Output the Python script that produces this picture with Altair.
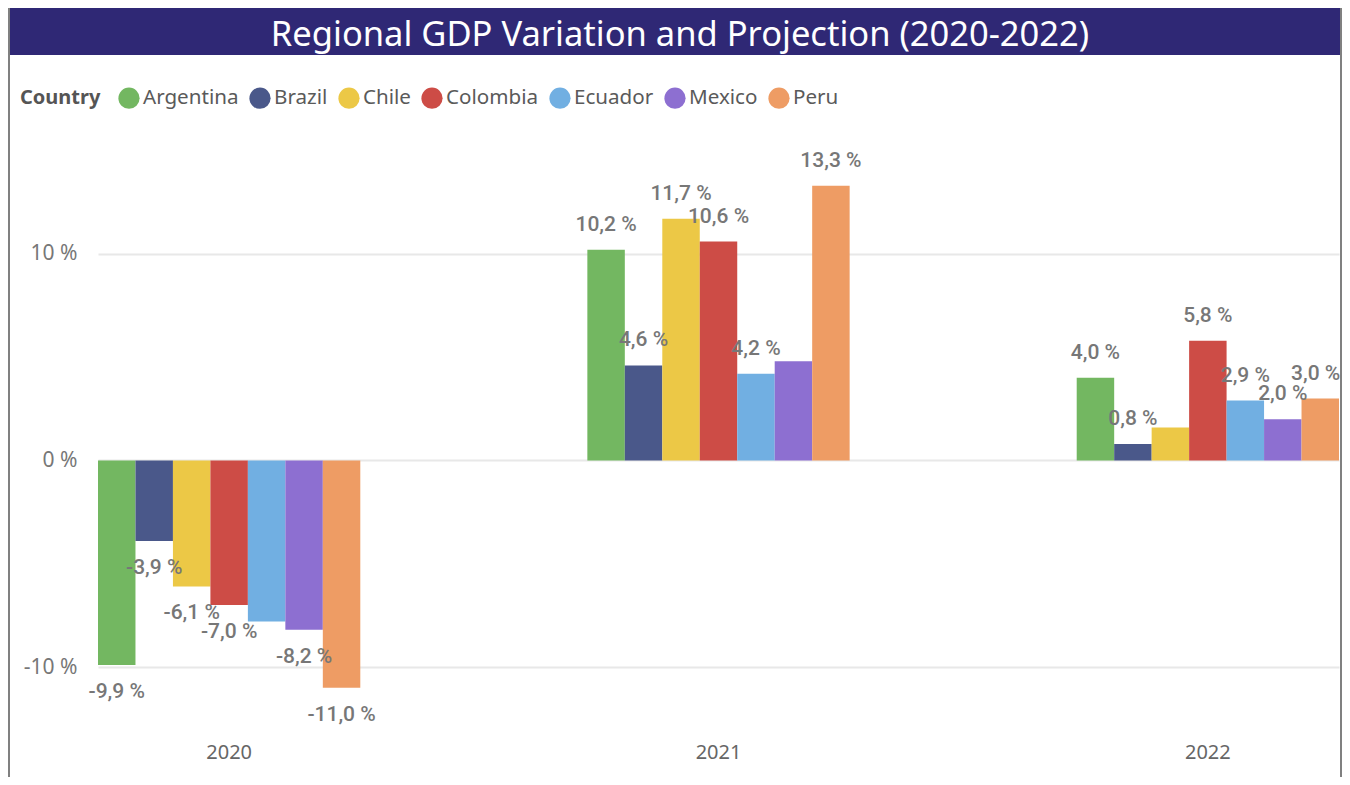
import altair as alt
import pandas as pd

countries = ["Argentina", "Brazil", "Chile", "Colombia", "Ecuador", "Mexico", "Peru"]
years = ["2020", "2021", "2022"]
gdp_2020 = [-9.9, -3.9, -6.1, -7.0, -7.8, -8.2, -11.0]
gdp_2021 = [10.2, 4.6, 11.7, 10.6, 4.2, 4.8, 13.3]
gdp_2022 = [4.0, 0.8, 1.6, 5.8, 2.9, 2.0, 3.0]
hidden_labels = [("2020", "Ecuador"), ("2021", "Mexico"), ("2022", "Chile")]
colors = ["#73B761", "#4A588A", "#ECC846", "#CD4C46", "#71AFE2", "#8D6FD1", "#EE9C64"]
title_text = "Regional GDP Variation and Projection (2020-2022)"

rows = []
for yr, vals in zip(years, [gdp_2020, gdp_2021, gdp_2022]):
    for c, v in zip(countries, vals):
        lab = "" if (yr, c) in hidden_labels else f"{v:.1f}".replace(".", ",") + " %"
        edge = (yr == years[-1]) and (c == countries[-1])
        rows.append({"Year": yr, "Country": c, "Value": v, "Label": lab, "Edge": edge})
df = pd.DataFrame(rows)

LABEL_FONT = "Roboto"
UI_FONT = "Noto Sans"

PLOT_W = 1241
PLOT_H = 568

x_enc = alt.X(
    "Year:N",
    sort=years,
    scale=alt.Scale(paddingInner=0.464, paddingOuter=0),
    axis=alt.Axis(
        title=None, labelAngle=0, ticks=False, domain=False, labelPadding=13,
        labelFontSize=20, labelColor="#666666", labelFont=UI_FONT, grid=False,
    ),
)
xoff_enc = alt.XOffset("Country:N", sort=countries, scale=alt.Scale(paddingInner=0, paddingOuter=0))
y_enc = alt.Y(
    "Value:Q",
    scale=alt.Scale(domain=[-13, 14.5], nice=False, zero=False),
    axis=alt.Axis(
        title=None, values=[-10, 0, 10], labelExpr="datum.value + ' %'",
        grid=True, gridColor="#E8E8E8", gridWidth=2, ticks=False, domain=False,
        labelPadding=21, labelFontSize=21, labelColor="#777777", labelFont=UI_FONT,
    ),
)
color_enc = alt.Color(
    "Country:N",
    sort=countries,
    scale=alt.Scale(domain=countries, range=colors),
    legend=alt.Legend(
        orient="none", legendX=-78, legendY=-74, direction="horizontal",
        title="Country", titleOrient="left", titleFontSize=20, titleFontWeight="bold",
        titleColor="#555555", titleFont=UI_FONT, titlePadding=17, titleBaseline="middle",
        labelFont=UI_FONT, labelFontSize=20.6, labelColor="#5A5A5A",
        symbolType="circle", symbolSize=450, symbolStrokeWidth=0, symbolOpacity=1,
        labelOffset=3, columnPadding=10,
    ),
)

base = alt.Chart(df)
bars = base.mark_bar().encode(x=x_enc, xOffset=xoff_enc, y=y_enc, color=color_enc)

text_style = dict(fontSize=21, fontWeight=500, color="#777777", font=LABEL_FONT, baseline="middle")
pos_text = base.transform_filter("datum.Value >= 0 && !datum.Edge").mark_text(
    dy=-25, **text_style
).encode(x=x_enc, xOffset=xoff_enc, y=y_enc, text="Label:N")
edge_text = base.transform_filter("datum.Value >= 0 && datum.Edge").mark_text(
    dy=-25, dx=20, align="right", **text_style
).encode(x=x_enc, xOffset=xoff_enc, y=y_enc, text="Label:N")
neg_text = base.transform_filter("datum.Value < 0").mark_text(
    dy=27, **text_style
).encode(x=x_enc, xOffset=xoff_enc, y=y_enc, text="Label:N")

deco = alt.Chart(pd.DataFrame({"t": [title_text]}))
title_bar = deco.mark_rect(color="#2F2875").encode(
    x=alt.value(-90), x2=alt.value(PLOT_W + 3), y=alt.value(-153), y2=alt.value(-106)
)
title_txt = deco.mark_text(
    color="white", fontSize=34.5, font=UI_FONT, align="center", baseline="middle"
).encode(x=alt.value(582), y=alt.value(-125), text="t:N")
left_border = deco.mark_rule(color="#808080", strokeWidth=2).encode(
    x=alt.value(-89), y=alt.value(-153), y2=alt.value(620)
)
right_border = deco.mark_rule(color="#808080", strokeWidth=2).encode(
    x=alt.value(PLOT_W + 2), y=alt.value(-153), y2=alt.value(620)
)

chart = alt.layer(
    bars, pos_text, edge_text, neg_text, title_bar, title_txt, left_border, right_border
).properties(
    width=PLOT_W,
    height=PLOT_H,
    padding={"left": 90, "top": 153, "right": 3, "bottom": 48},
    autosize=alt.AutoSizeParams(type="none"),
    background="white",
).configure_view(strokeWidth=0, stroke="transparent")

chart.save("out.html", embed_options={"renderer": "svg", "actions": False})
